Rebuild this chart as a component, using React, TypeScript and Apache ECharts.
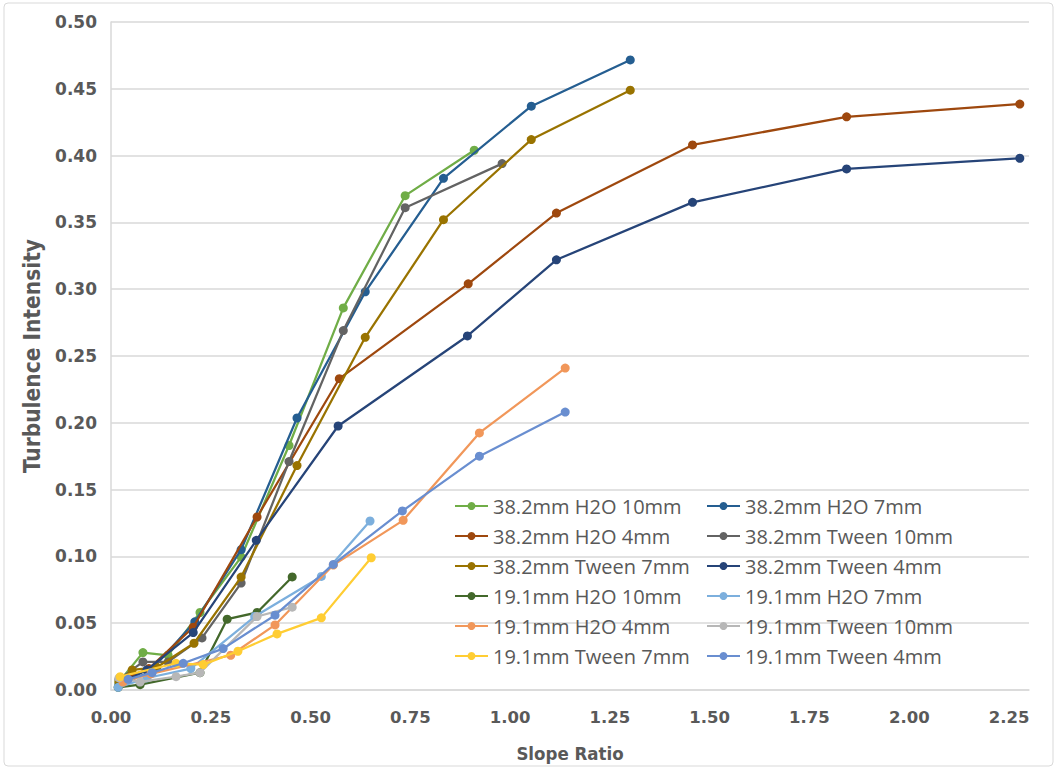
import React, { useEffect, useRef } from "react";
import * as echarts from "echarts";

// Each series: [slopeRatio, turbulenceIntensity]
const s38H2O10: number[][] = [[0.02, 0.006], [0.08, 0.028], [0.143, 0.026], [0.223, 0.058], [0.326, 0.0995], [0.446, 0.183], [0.582, 0.286], [0.737, 0.370], [0.91, 0.404]];
const s38H2O7: number[][] = [[0.02, 0.004], [0.095, 0.013], [0.21, 0.051], [0.326, 0.105], [0.466, 0.2036], [0.637, 0.298], [0.833, 0.383], [1.053, 0.437], [1.301, 0.4716]];
const s38H2O4: number[][] = [[0.03, 0.008], [0.095, 0.016], [0.206, 0.047], [0.366, 0.1295], [0.572, 0.233], [0.895, 0.304], [1.116, 0.357], [1.457, 0.408], [1.843, 0.429], [2.277, 0.4386]];
const s38Tw10: number[][] = [[0.02, 0.008], [0.08, 0.021], [0.143, 0.021], [0.228, 0.039], [0.326, 0.080], [0.446, 0.171], [0.582, 0.269], [0.737, 0.361], [0.98, 0.394]];
const s38Tw7: number[][] = [[0.02, 0.006], [0.053, 0.015], [0.115, 0.017], [0.208, 0.035], [0.326, 0.0845], [0.466, 0.168], [0.637, 0.264], [0.833, 0.352], [1.053, 0.412], [1.301, 0.449]];
const s38Tw4: number[][] = [[0.03, 0.006], [0.09, 0.015], [0.206, 0.043], [0.364, 0.112], [0.569, 0.1976], [0.893, 0.265], [1.116, 0.322], [1.457, 0.365], [1.843, 0.390], [2.277, 0.398]];
const s19H2O10: number[][] = [[0.018, 0.002], [0.073, 0.004], [0.223, 0.013], [0.291, 0.053], [0.366, 0.058], [0.454, 0.0846]];
const s19H2O7: number[][] = [[0.018, 0.002], [0.09, 0.009], [0.2, 0.016], [0.36, 0.055], [0.527, 0.085], [0.649, 0.1265]];
const s19H2O4: number[][] = [[0.03, 0.006], [0.1, 0.012], [0.3, 0.026], [0.411, 0.0487], [0.557, 0.0935], [0.732, 0.127], [0.923, 0.1924], [1.138, 0.241]];
const s19Tw10: number[][] = [[0.02, 0.009], [0.073, 0.006], [0.163, 0.010], [0.223, 0.013], [0.366, 0.055], [0.454, 0.062]];
const s19Tw7: number[][] = [[0.023, 0.010], [0.163, 0.020], [0.231, 0.019], [0.318, 0.029], [0.416, 0.042], [0.527, 0.054], [0.652, 0.099]];
const s19Tw4: number[][] = [[0.043, 0.008], [0.103, 0.013], [0.181, 0.020], [0.281, 0.031], [0.411, 0.056], [0.557, 0.094], [0.730, 0.134], [0.923, 0.175], [1.138, 0.208]];

const seriesNames = [
  "38.2mm H2O 10mm", "38.2mm H2O 7mm", "38.2mm H2O 4mm", "38.2mm Tween 10mm",
  "38.2mm Tween 7mm", "38.2mm Tween 4mm", "19.1mm H2O 10mm", "19.1mm H2O 7mm",
  "19.1mm H2O 4mm", "19.1mm Tween 10mm", "19.1mm Tween 7mm", "19.1mm Tween 4mm",
];
const seriesData = [s38H2O10, s38H2O7, s38H2O4, s38Tw10, s38Tw7, s38Tw4, s19H2O10, s19H2O7, s19H2O4, s19Tw10, s19Tw7, s19Tw4];
const seriesColors = [
  "#70AD47", "#255E91", "#9E480E", "#636363", "#997300", "#264478",
  "#43682B", "#7CAFDD", "#F1975A", "#B7B7B7", "#FFCD33", "#698ED0",
];
const xTicks = { min: 0, max: 2.3, interval: 0.25 };
const yTicks = { min: 0, max: 0.5, interval: 0.05 };

export default function App() {
  const ref = useRef<HTMLDivElement>(null);
  useEffect(() => {
    if (!ref.current) return;
    const chart = echarts.init(ref.current, undefined, { renderer: "svg" });
    const legendText = { fontFamily: "Open Sans", fontSize: 20, color: "#595959" };
    const legendCommon = {
      orient: "vertical" as const,
      itemWidth: 33,
      itemHeight: 10,
      itemGap: 10,
      textStyle: legendText,
    };
    chart.setOption({
      animation: false,
      backgroundColor: "#ffffff",
      grid: { left: 111, right: 29, top: 22, bottom: 80, containLabel: false },
      xAxis: {
        type: "value",
        min: xTicks.min,
        max: xTicks.max,
        interval: xTicks.interval,
        name: "Slope Ratio",
        nameLocation: "middle",
        nameGap: 54,
        nameTextStyle: { fontFamily: "DejaVu Sans Condensed", fontWeight: "bold", fontSize: 18.5, color: "#595959" },
        axisLine: { show: true, lineStyle: { color: "#D9D9D9", width: 1.5 } },
        axisTick: { show: false },
        splitLine: { show: false },
        axisLabel: {
          showMaxLabel: false,
          margin: 19,
          fontFamily: "DejaVu Sans",
          fontWeight: "bold",
          fontSize: 16.5,
          color: "#595959",
          formatter: (v: number) => v.toFixed(2),
        },
      },
      yAxis: {
        type: "value",
        min: yTicks.min,
        max: yTicks.max,
        interval: yTicks.interval,
        name: "Turbulence Intensity",
        nameLocation: "middle",
        nameGap: 68,
        nameTextStyle: { fontFamily: "DejaVu Sans Condensed", fontWeight: "bold", fontSize: 22.5, color: "#595959" },
        axisLine: { show: true, lineStyle: { color: "#D9D9D9", width: 1.5 } },
        axisTick: { show: false },
        splitLine: { show: true, lineStyle: { color: "#D9D9D9", width: 1.5 } },
        axisLabel: {
          margin: 14,
          fontFamily: "DejaVu Sans",
          fontWeight: "bold",
          fontSize: 17,
          color: "#595959",
          formatter: (v: number) => v.toFixed(2),
        },
      },
      legend: [
        { ...legendCommon, left: 449, top: 491, data: seriesNames.filter((_, i) => i % 2 === 0) },
        { ...legendCommon, left: 701, top: 491, data: seriesNames.filter((_, i) => i % 2 === 1) },
      ],
      series: seriesData.map((d, i) => ({
        name: seriesNames[i],
        type: "line",
        data: d,
        symbol: "circle",
        symbolSize: 9,
        showSymbol: true,
        color: seriesColors[i],
        lineStyle: { width: 2.25, color: seriesColors[i] },
        itemStyle: { color: seriesColors[i] },
        z: 2 + i,
      })),
      graphic: [
        {
          type: "rect",
          shape: { x: 4, y: 3, width: 1049, height: 763, r: 4 },
          style: { fill: "none", stroke: "#D9D9D9", lineWidth: 1 },
          silent: true,
        },
      ],
    });
    return () => chart.dispose();
  }, []);
  return <div ref={ref} style={{ width: 1058, height: 770, position: "absolute", left: 0, top: 0 }} />;
}
